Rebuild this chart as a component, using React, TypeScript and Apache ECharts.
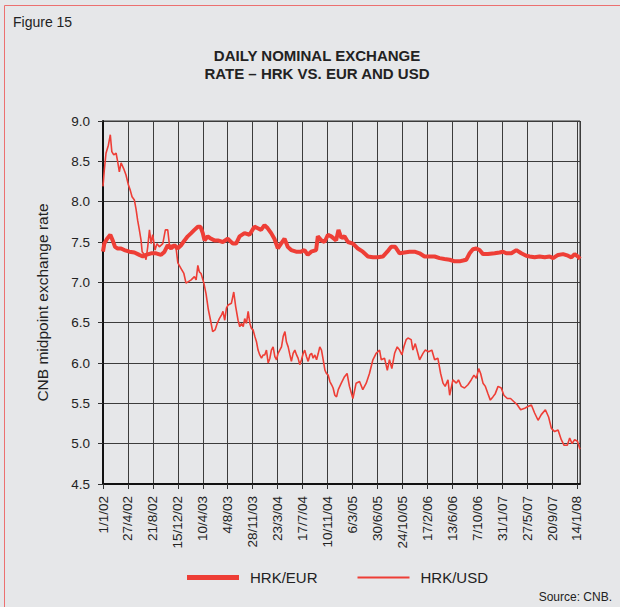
import React, { useEffect, useRef } from "react";
import * as echarts from "echarts";

// x positions are days since 1 Jan 2002
const xTickLabels = [
  "1/1/02", "27/4/02", "21/8/02", "15/12/02", "10/4/03", "4/8/03", "28/11/03",
  "23/3/04", "17/7/04", "10/11/04", "6/3/05", "30/6/05", "24/10/05", "17/2/06",
  "13/6/06", "7/10/06", "31/1/07", "27/5/07", "20/9/07", "14/1/08",
];
const yTicks = [4.5, 5.0, 5.5, 6.0, 6.5, 7.0, 7.5, 8.0, 8.5, 9.0];

const eurDays = [
  0, 6, 19, 34, 45, 56, 68, 84, 99, 123, 146, 169, 185, 200, 224, 247, 270, 286, 301, 317,
  332, 348, 363, 379, 394, 410, 425, 441, 453, 464, 472, 487, 503, 518, 534, 557, 580, 604,
  619, 635, 658, 681, 704, 720, 735, 751, 766, 782, 797, 813, 828, 844, 859, 875, 898, 921,
  937, 952, 968, 991, 999, 1015, 1030, 1046, 1061, 1084, 1095, 1108, 1123, 1139, 1162, 1185,
  1208, 1232, 1255, 1278, 1301, 1322, 1340, 1359, 1379, 1402, 1425, 1449, 1472, 1495, 1518,
  1542, 1565, 1588, 1612, 1635, 1658, 1674, 1689, 1705, 1720, 1736, 1751, 1767, 1790, 1821,
  1844, 1860, 1875, 1899, 1922, 1945, 1968, 1984, 2007, 2030, 2054, 2077, 2093, 2116, 2139,
  2162, 2178, 2193, 2209, 2218,
];
const eurValues = [
  7.38, 7.48, 7.54, 7.59, 7.52, 7.44, 7.42, 7.42, 7.40, 7.38, 7.37, 7.34, 7.32, 7.34, 7.36, 7.36, 7.34, 7.38, 7.46, 7.42,
  7.46, 7.42, 7.46, 7.52, 7.57, 7.61, 7.65, 7.69, 7.69, 7.61, 7.52, 7.57, 7.54, 7.52, 7.52, 7.50, 7.54, 7.48,
  7.48, 7.57, 7.61, 7.59, 7.69, 7.67, 7.65, 7.71, 7.67, 7.61, 7.54, 7.42, 7.48, 7.54, 7.44, 7.40, 7.38, 7.38,
  7.40, 7.34, 7.38, 7.40, 7.57, 7.52, 7.50, 7.59, 7.57, 7.52, 7.65, 7.55, 7.57, 7.50, 7.48, 7.42,
  7.38, 7.32, 7.31, 7.31, 7.32, 7.38, 7.44, 7.44, 7.36, 7.37, 7.38, 7.38, 7.36, 7.32, 7.32,
  7.32, 7.30, 7.29, 7.28, 7.26, 7.26, 7.27, 7.28, 7.36, 7.41, 7.42, 7.40, 7.35, 7.35, 7.36,
  7.37, 7.38, 7.36, 7.36, 7.40, 7.36, 7.33, 7.32, 7.31, 7.32, 7.31, 7.32, 7.30, 7.34, 7.35,
  7.33, 7.31, 7.35, 7.32, 7.29,
];

const usdDays = [
  0, 6, 14, 25, 34, 41, 50, 61, 68, 76, 84, 96, 107, 118, 127, 135, 146, 154, 161, 169, 177,
  182, 193, 200, 208, 216, 224, 231, 242, 251, 262, 278, 290, 301, 309, 332, 341, 348, 363,
  376, 386, 410, 425, 433, 441, 448, 456, 469, 479, 490, 500, 510, 521, 531, 541, 552, 558,
  566, 574, 582, 597, 608, 617, 628, 636, 644, 652, 659, 667, 675, 683, 690, 698, 706, 714,
  721, 729, 737, 745, 752, 760, 768, 776, 783, 791, 799, 807, 814, 822, 830, 838, 846, 853,
  861, 869, 876, 884, 892, 900, 907, 915, 923, 931, 938, 946, 954, 962, 970, 977, 985, 993,
  1001, 1008, 1016, 1024, 1032, 1039, 1047, 1055, 1063, 1070, 1078, 1086, 1094, 1108, 1123,
  1135, 1146, 1162, 1177, 1193, 1208, 1224, 1239, 1255, 1270, 1286, 1294, 1309, 1322, 1332,
  1343, 1356, 1368, 1379, 1390, 1399, 1410, 1418, 1433, 1441, 1452, 1464, 1472, 1488, 1498,
  1514, 1529, 1542, 1557, 1570, 1581, 1591, 1604, 1612, 1627, 1643, 1653, 1666, 1681, 1697,
  1712, 1725, 1736, 1747, 1756, 1767, 1778, 1790, 1801, 1813, 1824, 1837, 1852, 1864, 1880,
  1895, 1911, 1927, 1942, 1961, 1976, 1992, 2007, 2023, 2038, 2057, 2072, 2085, 2100, 2116,
  2131, 2144, 2159, 2170, 2181, 2193, 2206, 2212, 2218,
];
const usdValues = [
  8.19, 8.39, 8.60, 8.70, 8.83, 8.62, 8.58, 8.60, 8.50, 8.37, 8.48, 8.41, 8.33, 8.21, 8.14, 8.06, 8.02, 7.90, 7.77, 7.65, 7.52,
  7.38, 7.34, 7.28, 7.44, 7.65, 7.48, 7.59, 7.40, 7.48, 7.44, 7.48, 7.65, 7.65, 7.46, 7.46, 7.40, 7.24, 7.17,
  7.11, 6.99, 7.03, 7.07, 7.03, 7.21, 7.13, 7.11, 6.99, 6.86, 6.66, 6.53, 6.39, 6.41, 6.49, 6.55, 6.60, 6.64,
  6.53, 6.68, 6.72, 6.74, 6.88, 6.70, 6.53, 6.45, 6.49, 6.45, 6.55, 6.49, 6.64, 6.49, 6.43, 6.41, 6.33, 6.26,
  6.16, 6.10, 6.06, 6.10, 6.10, 6.16, 6.00, 6.06, 6.16, 6.20, 6.08, 6.04, 6.12, 6.16, 6.20, 6.33, 6.39, 6.26,
  6.20, 6.10, 6.02, 6.12, 6.16, 6.10, 6.06, 5.98, 6.04, 6.12, 6.16, 6.08, 6.02, 6.10, 6.12, 6.06, 6.10, 6.04,
  6.12, 6.20, 6.16, 6.04, 5.91, 5.87, 5.85, 5.77, 5.73, 5.69, 5.60, 5.58, 5.67, 5.75, 5.83,
  5.87, 5.71, 5.56, 5.75, 5.77, 5.67, 5.75, 5.87, 6.04, 6.12, 6.16, 6.04, 6.06, 5.91, 6.04,
  5.93, 6.12, 6.20, 6.16, 6.10, 6.20, 6.29, 6.31, 6.29, 6.16, 6.24, 6.12, 6.04, 6.12, 6.16,
  6.14, 6.16, 6.04, 6.06, 5.87, 5.75, 5.71, 5.79, 5.60, 5.79, 5.75, 5.79, 5.71, 5.69, 5.73,
  5.79, 5.85, 5.81, 5.93, 5.87, 5.75, 5.71, 5.62, 5.54, 5.58, 5.62, 5.71, 5.69, 5.60, 5.56,
  5.56, 5.52, 5.48, 5.42, 5.44, 5.46, 5.48, 5.38, 5.29, 5.36, 5.42, 5.33, 5.19, 5.15, 5.17,
  5.05, 4.98, 4.98, 5.07, 5.00, 5.05, 5.03, 4.98, 4.93,
];

const TICK_DAYS = 116;
const LAST_DAY = 2218;
const RED = "#EE3E36";
const FONT = "'Liberation Sans', Arial, Helvetica, sans-serif";

export default function App() {
  const ref = useRef<HTMLDivElement>(null);
  useEffect(() => {
    if (!ref.current) return;
    const chart = echarts.init(ref.current, null, { renderer: "svg" });
    chart.setOption({
      animation: false,
      backgroundColor: "#E6E7E9",
      textStyle: { fontFamily: FONT },
      grid: {
        left: 103, right: 40, top: 121, bottom: 123,
        show: true, borderColor: "#333", borderWidth: 1, backgroundColor: "transparent",
      },
      legend: {
        left: 182, top: 565, itemWidth: 52, itemHeight: 14, itemGap: 40,
        data: [
          { name: "HRK/EUR", itemStyle: { color: RED }, icon: "path://M0,0 L52,0 L52,5 L0,5 Z" },
          { name: "HRK/USD", itemStyle: { color: RED }, icon: "path://M0,0 L52,0 L52,1.8 L0,1.8 Z" },
        ],
        textStyle: { fontSize: 15, color: "#222", fontFamily: FONT, padding: [0, 0, 0, 6] },
      },
      xAxis: {
        type: "value", min: 0, max: LAST_DAY, interval: TICK_DAYS,
        axisLine: { show: true, lineStyle: { color: "#111", width: 2 } },
        axisTick: { show: true, length: 5, lineStyle: { color: "#333" } },
        splitLine: { show: true, lineStyle: { color: "#3c3c3c", width: 1 } },
        axisLabel: {
          rotate: 90, margin: 12, fontSize: 13.5, color: "#222", showMaxLabel: false,
          formatter: (v: number) => (v % TICK_DAYS === 0 ? xTickLabels[v / TICK_DAYS] ?? "" : ""),
        },
      },
      yAxis: {
        type: "value", min: yTicks[0], max: yTicks[yTicks.length - 1], interval: 0.5,
        name: "CNB midpoint exchange rate", nameLocation: "middle", nameGap: 53, nameRotate: 90,
        nameTextStyle: { fontSize: 15.5, color: "#222", fontFamily: FONT },
        axisLine: { show: true, lineStyle: { color: "#111", width: 2 } },
        axisTick: { show: true, length: 5, lineStyle: { color: "#333" } },
        splitLine: { show: true, lineStyle: { color: "#3c3c3c", width: 1 } },
        axisLabel: { margin: 13, fontSize: 13.5, color: "#222", formatter: (v: number) => v.toFixed(1) },
      },
      series: [
        {
          name: "HRK/EUR", type: "line", showSymbol: false, symbol: "none",
          data: eurDays.map((d, i) => [d, eurValues[i]]),
          lineStyle: { color: RED, width: 4 }, itemStyle: { color: RED }, z: 3,
        },
        {
          name: "HRK/USD", type: "line", showSymbol: false, symbol: "none",
          data: usdDays.map((d, i) => [d, usdValues[i]]),
          lineStyle: { color: RED, width: 1.6 }, itemStyle: { color: RED }, z: 4,
        },
      ],
      graphic: [
        {
          type: "rect", silent: true, z: -1,
          shape: { x: 4.5, y: 5.5, width: 700, height: 700 },
          style: { fill: "none", stroke: "#EC7070", lineWidth: 1 },
        },
        {
          type: "text", left: 13, top: 15,
          style: { text: "Figure 15", fontSize: 14, fill: "#222", fontFamily: FONT },
        },
        {
          type: "text", x: 317, y: 46,
          style: {
            text: "DAILY NOMINAL EXCHANGE\nRATE – HRK VS. EUR AND USD",
            fontSize: 15, fontWeight: "bold", fill: "#222", align: "center", lineHeight: 18,
            fontFamily: "'Liberation Sans Narrow', " + FONT,
          },
        },
        {
          type: "text", right: 8, top: 591,
          style: { text: "Source: CNB.", fontSize: 12, fill: "#222", fontFamily: FONT },
        },
      ],
    });
    return () => chart.dispose();
  }, []);
  return <div ref={ref} style={{ position: "fixed", left: 0, top: 0, width: 620, height: 607 }} />;
}
